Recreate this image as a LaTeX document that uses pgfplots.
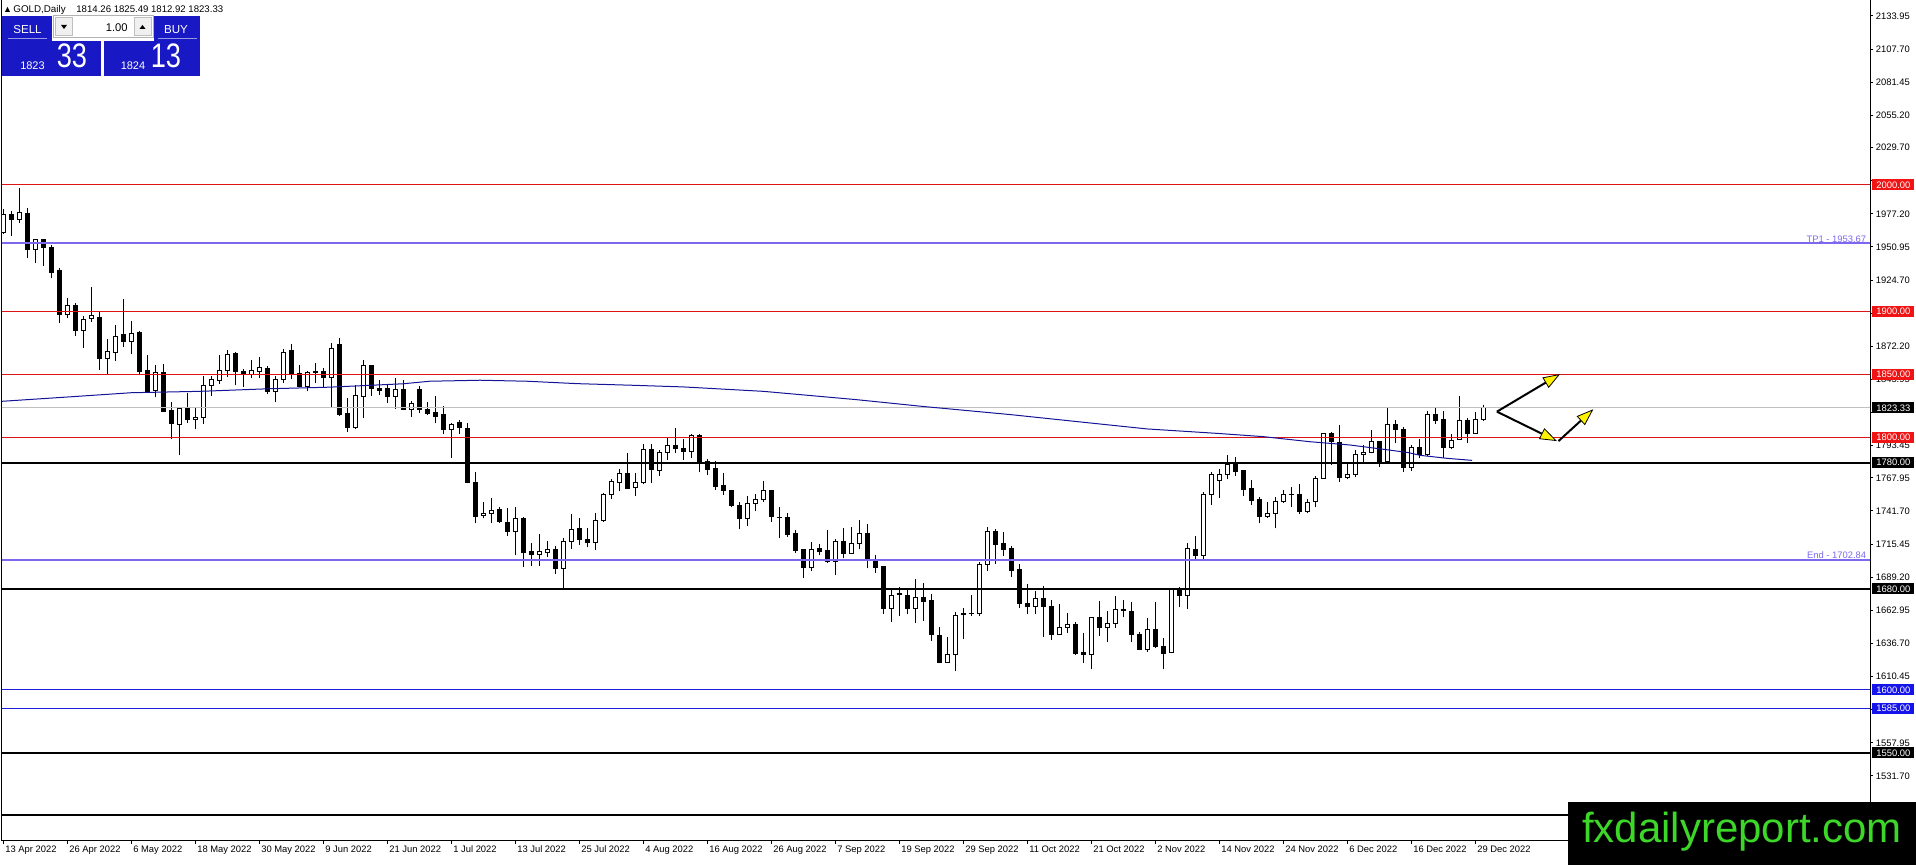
\documentclass[border=0pt]{standalone}
\usepackage{fontspec}
\setmainfont{Liberation Sans}
\usepackage{pgfplots}
\pgfplotsset{compat=1.18}
\usepackage{pgfplotstable}
\usetikzlibrary{arrows.meta}

\definecolor{redline}{RGB}{220,20,20}
\definecolor{redbox}{RGB}{240,20,20}
\definecolor{slateb}{RGB}{123,104,238}
\definecolor{blueline}{RGB}{30,30,220}
\definecolor{bluebox}{RGB}{20,20,235}
\definecolor{maline}{RGB}{20,20,150}
\definecolor{panelblue}{RGB}{24,24,196}
\definecolor{logogreen}{RGB}{60,215,40}
\definecolor{silverl}{RGB}{192,192,192}

\pgfplotstableread{
k o h l c
0 1962.2 1981.0 1961.5 1977.0
1 1976.5 1979.4 1959.9 1972.8
2 1972.8 1997.4 1970.2 1978.6
3 1977.6 1981.5 1941.9 1949.0
4 1949.0 1957.5 1938.5 1956.9
5 1956.9 1957.5 1936.1 1950.6
6 1950.6 1952.7 1926.0 1930.5
7 1931.9 1934.2 1890.9 1897.5
8 1897.5 1910.5 1894.9 1904.7
9 1904.7 1906.2 1880.3 1884.6
10 1884.6 1896.2 1871.1 1893.6
11 1894.3 1919.4 1891.7 1896.2
12 1895.4 1899.1 1853.4 1862.4
13 1862.4 1878.0 1850.0 1867.7
14 1867.4 1889.1 1860.8 1879.8
15 1881.9 1909.7 1871.9 1876.1
16 1876.1 1892.2 1865.8 1882.7
17 1883.5 1884.6 1850.5 1852.0
18 1853.4 1865.3 1834.9 1835.4
19 1837.0 1857.6 1831.7 1851.6
20 1851.6 1857.9 1820.4 1820.7
21 1821.7 1828.3 1798.5 1811.1
22 1810.4 1823.6 1786.1 1823.0
23 1823.8 1835.4 1811.7 1814.3
24 1814.3 1823.8 1806.4 1815.9
25 1815.9 1848.6 1810.5 1841.5
26 1841.0 1848.6 1833.0 1846.2
27 1845.0 1865.3 1842.6 1853.3
28 1853.4 1869.3 1848.1 1865.8
29 1866.1 1867.9 1841.5 1852.1
30 1852.6 1854.2 1840.2 1850.8
31 1850.2 1861.3 1846.8 1853.4
32 1852.1 1863.4 1846.8 1855.0
33 1854.7 1856.3 1834.1 1836.3
34 1836.3 1848.6 1827.8 1846.0
35 1846.0 1870.0 1843.4 1867.4
36 1868.5 1874.0 1846.5 1850.8
37 1850.8 1857.1 1839.7 1840.2
38 1840.7 1852.6 1836.5 1851.6
39 1852.6 1858.7 1843.4 1851.3
40 1852.6 1855.0 1839.4 1847.6
41 1847.6 1875.1 1824.4 1870.6
42 1874.0 1878.5 1817.0 1817.8
43 1819.1 1831.0 1804.6 1808.0
44 1808.0 1841.5 1806.4 1833.3
45 1832.3 1861.3 1815.1 1856.6
46 1856.6 1857.4 1832.8 1838.6
47 1838.6 1845.5 1833.6 1837.0
48 1838.6 1842.3 1827.5 1832.3
49 1832.3 1846.8 1822.5 1837.6
50 1837.6 1845.5 1821.7 1822.2
51 1822.3 1829.1 1816.4 1826.5
52 1837.6 1840.7 1819.6 1822.3
53 1822.5 1828.3 1817.8 1819.1
54 1819.6 1832.8 1811.2 1816.4
55 1817.8 1824.9 1802.4 1806.4
56 1806.4 1811.7 1784.0 1810.6
57 1811.7 1813.8 1802.7 1808.0
58 1807.2 1811.7 1763.6 1764.1
59 1764.4 1772.6 1731.9 1737.7
60 1738.0 1748.8 1735.9 1739.8
61 1739.8 1752.3 1732.5 1741.7
62 1742.5 1744.6 1732.5 1733.2
63 1732.7 1743.8 1721.9 1725.3
64 1725.3 1745.1 1706.8 1735.4
65 1735.4 1736.7 1697.1 1708.7
66 1709.2 1716.1 1698.4 1707.1
67 1707.1 1723.5 1698.4 1709.2
68 1708.7 1717.9 1705.0 1711.3
69 1711.3 1714.0 1691.8 1696.3
70 1696.3 1720.0 1680.4 1717.7
71 1717.7 1739.1 1711.6 1727.2
72 1728.0 1736.4 1714.8 1719.2
73 1719.2 1728.0 1712.9 1716.6
74 1716.6 1739.9 1710.8 1734.0
75 1734.0 1756.2 1733.2 1754.9
76 1754.9 1767.3 1751.5 1765.2
77 1764.4 1774.7 1757.5 1771.5
78 1771.5 1787.9 1759.4 1759.4
79 1760.5 1772.1 1753.8 1764.4
80 1764.4 1794.8 1762.8 1790.6
81 1790.6 1794.8 1764.1 1774.7
82 1773.7 1790.0 1769.4 1788.2
83 1788.2 1799.3 1782.1 1793.7
84 1793.7 1807.2 1787.4 1791.3
85 1791.3 1798.5 1782.1 1788.7
86 1788.7 1802.7 1784.0 1801.9
87 1801.9 1802.4 1772.3 1779.5
88 1780.8 1782.6 1770.2 1774.7
89 1775.5 1781.6 1758.3 1761.0
90 1761.5 1771.5 1754.4 1757.8
91 1758.3 1758.3 1744.6 1745.7
92 1746.4 1749.1 1727.2 1735.6
93 1735.6 1753.6 1729.8 1747.8
94 1747.8 1755.2 1742.0 1750.4
95 1750.4 1765.5 1749.1 1758.3
96 1758.3 1758.3 1733.2 1737.2
97 1736.9 1744.6 1720.0 1736.7
98 1736.7 1739.8 1721.4 1723.2
99 1723.5 1726.6 1708.7 1710.3
100 1710.8 1710.8 1688.3 1697.1
101 1697.1 1717.4 1694.4 1711.3
102 1712.1 1715.3 1706.8 1709.5
103 1710.0 1726.6 1700.8 1701.5
104 1701.5 1719.2 1691.0 1717.9
105 1717.9 1727.9 1704.2 1708.1
106 1708.1 1728.8 1708.1 1716.1
107 1716.1 1734.6 1711.3 1724.0
108 1724.0 1731.4 1696.3 1702.3
109 1701.5 1706.8 1692.8 1697.1
110 1697.6 1698.4 1660.1 1664.6
111 1664.6 1680.4 1653.5 1675.1
112 1675.7 1681.2 1658.8 1676.2
113 1675.1 1679.1 1659.8 1664.6
114 1664.6 1687.5 1653.2 1673.3
115 1673.3 1684.4 1654.8 1669.8
116 1670.9 1675.9 1638.9 1643.9
117 1642.9 1649.5 1621.0 1621.8
118 1621.8 1641.6 1621.8 1628.1
119 1628.1 1661.9 1614.9 1658.8
120 1659.8 1664.6 1640.3 1660.3
121 1660.3 1675.1 1658.7 1660.6
122 1660.6 1701.0 1658.7 1699.4
123 1699.4 1728.7 1694.4 1725.8
124 1725.8 1727.4 1699.7 1715.5
125 1716.1 1724.8 1706.0 1710.8
126 1712.1 1713.9 1689.6 1694.4
127 1695.5 1699.7 1665.1 1668.0
128 1668.0 1683.8 1660.1 1665.9
129 1665.9 1678.6 1660.1 1672.5
130 1672.5 1682.2 1642.1 1665.9
131 1666.4 1671.2 1639.5 1643.9
132 1643.9 1668.0 1643.4 1649.5
133 1649.5 1660.6 1645.3 1652.1
134 1652.1 1654.0 1627.6 1628.9
135 1629.4 1644.7 1621.5 1627.6
136 1627.6 1658.0 1616.2 1657.4
137 1657.4 1670.4 1642.6 1649.5
138 1649.5 1662.4 1637.6 1652.7
139 1652.7 1674.3 1649.2 1663.8
140 1663.8 1671.2 1657.4 1662.7
141 1662.4 1669.3 1637.6 1643.9
142 1644.2 1645.5 1631.5 1632.3
143 1632.3 1656.6 1630.2 1647.4
144 1647.4 1669.6 1633.5 1634.2
145 1634.7 1640.8 1616.2 1628.9
146 1629.4 1680.9 1628.9 1680.4
147 1679.1 1681.7 1665.9 1674.6
148 1674.6 1716.1 1664.0 1712.1
149 1711.3 1722.1 1702.3 1706.3
150 1706.3 1757.0 1703.4 1754.9
151 1754.9 1772.8 1746.4 1770.7
152 1765.7 1774.6 1752.2 1770.7
153 1770.7 1786.1 1766.8 1778.7
154 1778.7 1784.2 1769.4 1772.8
155 1773.4 1774.2 1753.6 1759.1
156 1759.6 1766.2 1746.4 1749.9
157 1750.4 1752.5 1731.9 1737.7
158 1737.2 1749.1 1736.4 1739.8
159 1739.8 1752.5 1727.9 1749.1
160 1749.1 1758.3 1748.3 1754.9
161 1754.4 1760.4 1745.1 1754.6
162 1754.4 1762.8 1739.0 1741.2
163 1740.9 1750.9 1739.8 1748.3
164 1749.1 1769.4 1744.6 1767.6
165 1767.6 1803.7 1767.6 1802.7
166 1802.7 1804.0 1778.1 1796.6
167 1795.8 1809.8 1765.0 1768.4
168 1768.4 1780.0 1766.8 1771.0
169 1771.0 1790.0 1768.4 1786.1
170 1786.1 1794.0 1780.8 1788.4
171 1788.4 1805.9 1787.4 1796.6
172 1796.6 1797.2 1776.8 1780.8
173 1780.8 1824.4 1780.8 1810.6
174 1810.6 1813.8 1795.3 1806.4
175 1806.4 1808.5 1772.8 1776.0
176 1776.3 1794.0 1773.6 1791.9
177 1792.1 1798.7 1783.4 1786.1
178 1786.1 1820.9 1785.3 1817.8
179 1817.8 1823.0 1810.6 1813.3
180 1813.8 1820.9 1783.4 1791.9
181 1791.9 1802.4 1790.5 1797.9
182 1798.5 1832.8 1798.5 1813.0
183 1813.0 1815.6 1795.8 1803.2
184 1803.2 1820.4 1803.2 1814.3
185 1814.26 1825.49 1812.92 1823.33
}\candles

\pgfplotsset{base/.style={at={(1pt,12pt)}, anchor=south west, scale only axis,
  width=934pt, height=420.5pt, xmin=-0.1625, xmax=233.3375, ymin=1480.2, ymax=2146.6}}
\tikzset{pbox/.style={anchor=west, inner sep=0pt, minimum width=21pt, minimum height=5.5pt,
  text=white, font=\fontsize{4.7pt}{5pt}\selectfont}}

\begin{document}
\begin{tikzpicture}
\useasboundingbox (0,0) rectangle (958pt,432.5pt);
% axis with frame, ticks and wicks
\begin{axis}[base,
  axis line style={black, line width=0.5pt},
  xtick={0,8,...,184},
  xticklabels={13 Apr 2022,26 Apr 2022,6 May 2022,18 May 2022,30 May 2022,9 Jun 2022,21 Jun 2022,1 Jul 2022,13 Jul 2022,25 Jul 2022,4 Aug 2022,16 Aug 2022,26 Aug 2022,7 Sep 2022,19 Sep 2022,29 Sep 2022,11 Oct 2022,21 Oct 2022,2 Nov 2022,14 Nov 2022,24 Nov 2022,6 Dec 2022,16 Dec 2022,29 Dec 2022},
  ytick={2133.95,2107.70,2081.45,2055.20,2029.70,2003.45,1977.20,1950.95,1924.70,1898.45,1872.20,1845.95,1819.70,1793.45,1767.95,1741.70,1715.45,1689.20,1662.95,1636.70,1610.45,1584.20,1557.95,1531.70,1505.45},
  yticklabels={2133.95,2107.70,2081.45,2055.20,2029.70,{},1977.20,1950.95,1924.70,{},1872.20,1845.95,{},1793.45,1767.95,1741.70,1715.45,1689.20,1662.95,1636.70,1610.45,{},1557.95,1531.70,1505.45},
  xtick pos=left, ytick pos=right, yticklabel pos=right,
  tick align=outside, major tick length=1.5pt,
  tick style={black, line width=0.5pt},
  tick label style={font=\fontsize{4.7pt}{5pt}\selectfont, inner sep=0pt},
  xticklabel style={anchor=north west, xshift=0.8pt, yshift=-0.8pt},
  yticklabel style={anchor=west, xshift=1.2pt},
]
\addplot[only marks, mark=*, mark size=0pt, mark options={draw=none, fill=none},
  error bars/.cd, y dir=plus, y explicit, error mark=none,
  error bar style={black, line width=0.5pt}]
  table[x=k, y=l, y error plus expr=\thisrow{h}-\thisrow{l}] {\candles};
\end{axis}
% candle bodies
\begin{axis}[base, hide axis, ybar stacked, bar width=2pt]
\addplot[draw=none, fill=none] table[x=k, y expr={min(\thisrow{o},\thisrow{c})}] {\candles};
\addplot[draw=black, fill=white, line width=0.5pt] table[x=k, y expr={max(\thisrow{c}-\thisrow{o},0)}] {\candles};
\addplot[draw=black, fill=black, line width=0.5pt] table[x=k, y expr={max(\thisrow{o}-\thisrow{c},0)}] {\candles};
\end{axis}
% lines, moving average, annotations
\begin{axis}[base, hide axis]
\addplot[redline, line width=0.5pt] coordinates {(-5,2000) (240,2000)};
\addplot[redline, line width=0.5pt] coordinates {(-5,1900) (240,1900)};
\addplot[redline, line width=0.5pt] coordinates {(-5,1850) (240,1850)};
\addplot[redline, line width=0.5pt] coordinates {(-5,1800) (240,1800)};
\addplot[silverl, line width=0.5pt] coordinates {(-5,1823.33) (240,1823.33)};
\addplot[slateb, line width=1pt] coordinates {(-5,1953.67) (240,1953.67)};
\addplot[slateb, line width=1pt] coordinates {(-5,1702.84) (240,1702.84)};
\addplot[black, line width=1pt] coordinates {(-5,1780) (240,1780)};
\addplot[black, line width=1pt] coordinates {(-5,1680) (240,1680)};
\addplot[black, line width=1pt] coordinates {(-5,1550) (240,1550)};
\addplot[black, line width=1pt] coordinates {(-5,1501) (240,1501)};
\addplot[blueline, line width=0.5pt] coordinates {(-5,1600) (240,1600)};
\addplot[blueline, line width=0.5pt] coordinates {(-5,1585) (240,1585)};
\addplot[maline, line width=0.5pt] coordinates {
(-0.4,1828.5) (8,1832) (16,1835.4) (24.6,1836.5) (33,1838.5) (40.8,1839.8) (50,1842.5)
(53.3,1844.5) (59.6,1845.3) (65.5,1844.5) (71.7,1842.6) (78.7,1841.3) (85,1840)
(95,1836.5) (106.5,1830) (115,1824.5) (126,1818) (135,1812) (143,1806.7) (151.7,1803.2)
(157.5,1800.6) (163.3,1796.6) (168.3,1794.0) (172.5,1790.6) (175.6,1788.0) (177.1,1785.8)
(180.5,1783.4) (183.6,1781.8)};
\node[anchor=south east, inner sep=0.4pt, text=slateb, font=\fontsize{4.7pt}{5pt}\selectfont] at (axis cs:233.0,1953.67) {TP1 - 1953.67};
\node[anchor=south east, inner sep=0.4pt, text=slateb, font=\fontsize{4.7pt}{5pt}\selectfont] at (axis cs:233.0,1702.84) {End - 1702.84};
\draw[line width=1pt, -{Triangle[length=8.5pt,width=6pt,fill=yellow,line width=0.4pt]}] (axis cs:186.7,1820.4) -- (axis cs:194.6,1850.2);
\draw[line width=1pt, -{Triangle[length=8.5pt,width=6pt,fill=yellow,line width=0.4pt]}] (axis cs:186.7,1820.4) -- (axis cs:194.2,1797.1);
\draw[line width=1pt, -{Triangle[length=8.5pt,width=6pt,fill=yellow,line width=0.4pt]}] (axis cs:194.4,1797.1) -- (axis cs:198.75,1822.3);
\coordinate (R2000) at (axis cs:233.3375,2000);
\coordinate (R1900) at (axis cs:233.3375,1900);
\coordinate (R1850) at (axis cs:233.3375,1850);
\coordinate (R1823) at (axis cs:233.3375,1823.33);
\coordinate (R1800) at (axis cs:233.3375,1800);
\coordinate (R1780) at (axis cs:233.3375,1780);
\coordinate (R1680) at (axis cs:233.3375,1680);
\coordinate (R1600) at (axis cs:233.3375,1600);
\coordinate (R1585) at (axis cs:233.3375,1585);
\coordinate (R1550) at (axis cs:233.3375,1550);
\end{axis}
% price labels on the right axis
\node[pbox, fill=redbox] at ([xshift=1pt]R2000) {2000.00};
\node[pbox, fill=redbox] at ([xshift=1pt]R1900) {1900.00};
\node[pbox, fill=redbox] at ([xshift=1pt]R1850) {1850.00};
\node[pbox, fill=black] at ([xshift=1pt]R1823) {1823.33};
\node[pbox, fill=redbox] at ([xshift=1pt]R1800) {1800.00};
\node[pbox, fill=black] at ([xshift=1pt]R1780) {1780.00};
\node[pbox, fill=black] at ([xshift=1pt]R1680) {1680.00};
\node[pbox, fill=bluebox] at ([xshift=1pt]R1600) {1600.00};
\node[pbox, fill=bluebox] at ([xshift=1pt]R1585) {1585.00};
\node[pbox, fill=black] at ([xshift=1pt]R1550) {1550.00};
% header, trading panel and logo (pixel coordinates from the top left)
\begin{scope}[x=0.5pt, y=-0.5pt, shift={(0pt,432.5pt)}]
\fill[black] (5,12) -- (10,12) -- (7.5,7) -- cycle;
\node[anchor=west, inner sep=0pt, font=\fontsize{4.9pt}{5pt}\selectfont] at (13,9.5) {GOLD,Daily};
\node[anchor=west, inner sep=0pt, font=\fontsize{4.8pt}{5pt}\selectfont] at (76,9.5) {1814.26 1825.49 1812.92 1823.33};
\fill[panelblue] (2,16) rectangle (52,41);
\fill[panelblue] (154,16) rectangle (200,41);
\fill[panelblue] (2,41) rectangle (101,76);
\fill[panelblue] (104,41) rectangle (200,76);
\draw[panelblue!45!white, line width=0.5pt] (8,39) -- (47,39);
\draw[panelblue!45!white, line width=0.5pt] (158,39) -- (197,39);
\filldraw[fill=white, draw=gray!60, line width=0.5pt] (53,16) rectangle (153,38);
\filldraw[fill=gray!12, draw=gray!50, line width=0.5pt] (55,18) rectangle (72,36);
\filldraw[fill=gray!12, draw=gray!50, line width=0.5pt] (134,18) rectangle (151,36);
\fill[black] (61,25) -- (67,25) -- (64,29) -- cycle;
\fill[black] (139.5,29) -- (145.5,29) -- (142.5,25) -- cycle;
\node[text=white, inner sep=0pt, font=\fontsize{5.8pt}{6pt}\selectfont] at (27.5,30) {SELL};
\node[text=white, inner sep=0pt, font=\fontsize{5.8pt}{6pt}\selectfont] at (176,30) {BUY};
\node[anchor=east, inner sep=0pt, font=\fontsize{5.6pt}{6pt}\selectfont] at (128,28) {1.00};
\node[text=white, inner sep=0pt, font=\fontsize{5.5pt}{6pt}\selectfont] at (32.5,66) {1823};
\node[text=white, inner sep=0pt, font=\fontsize{5.5pt}{6pt}\selectfont] at (133,66) {1824};
\node[text=white, inner sep=0pt, xscale=0.8, transform shape, font=\fontsize{17pt}{17pt}\selectfont] at (72,56) {33};
\node[text=white, inner sep=0pt, xscale=0.8, transform shape, font=\fontsize{17pt}{17pt}\selectfont] at (166,56) {13};
\fill[black] (1568,802) rectangle (1916,865);
\node[text=logogreen, inner sep=0pt, font=\fontsize{21pt}{21pt}\selectfont] at (1742,832) {fxdailyreport.com};
\end{scope}
\end{tikzpicture}
\end{document}
